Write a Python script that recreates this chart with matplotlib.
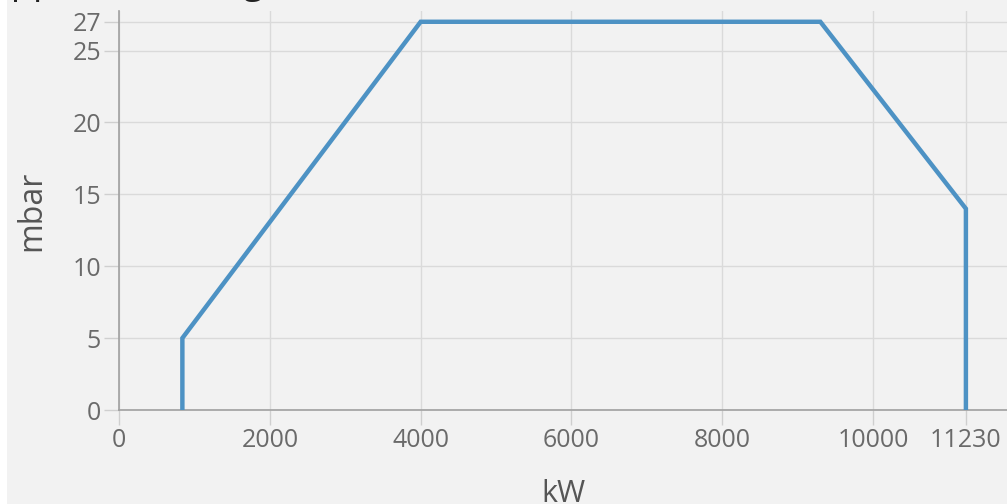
import matplotlib
matplotlib.use("Agg")
import matplotlib.pyplot as plt

# operating range envelope (kW vs mbar)
power_kw = [840, 840, 4000, 9300, 11230, 11230]
pressure_mbar = [0, 5, 27, 27, 14, 0]

x_ticks = [0, 2000, 4000, 6000, 8000, 10000, 11230]
y_ticks = [0, 5, 10, 15, 20, 25, 27]

bg = "#f2f2f2"
plt.rcParams["font.family"] = ["Open Sans", "DejaVu Sans"]

fig = plt.figure(figsize=(10.07, 5.04), dpi=100, facecolor=bg)
fig.patches.append(plt.Rectangle((0, 0), 7 / 1007, 1, transform=fig.transFigure,
                                 facecolor="white", edgecolor="none", zorder=0))
ax = fig.add_axes([0.1182, 0.1865, 0.8818, 0.7917])
ax.set_facecolor(bg)

ax.plot(power_kw, pressure_mbar, color="#4d92c4", lw=3.2, solid_joinstyle="miter", zorder=3)

ax.set_xlim(0, 11775)
ax.set_ylim(0, 27.75)
ax.set_xticks(x_ticks)
ax.set_xticklabels([str(v) for v in x_ticks])
ax.set_yticks(y_ticks)
ax.set_yticklabels([str(v) for v in y_ticks])

ax.grid(True, color="#dadada", lw=1)
ax.tick_params(axis="both", length=11, width=1, color="#cfcfcf",
               labelsize=18, labelcolor="#6a6a6a", pad=2)
for s in ["top", "right"]:
    ax.spines[s].set_visible(False)
for s in ["left", "bottom"]:
    ax.spines[s].set_color("#a0a0a0")
    ax.spines[s].set_linewidth(1.2)

ax.set_xlabel("kW", fontsize=22, color="#555555", labelpad=19)
ax.set_ylabel("mbar", fontsize=23, color="#555555", labelpad=17)

fig.text(-0.012, 1.013, "Application range", fontsize=26, color="#222222",
         va="baseline", ha="left")

fig.savefig("out.png", dpi=100, facecolor=bg)
